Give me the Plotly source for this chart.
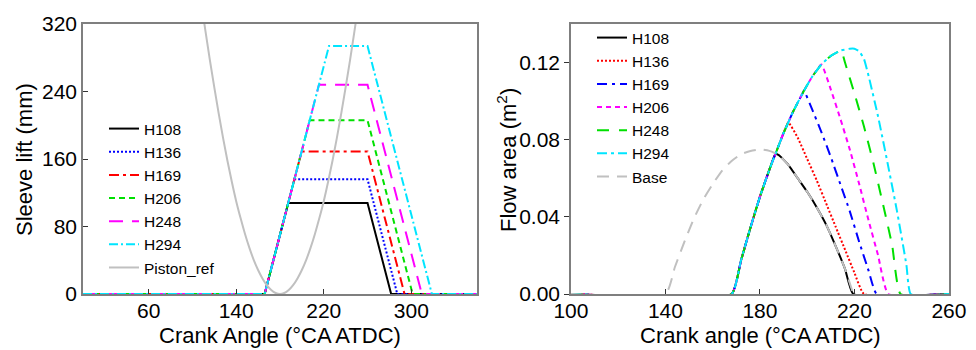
import plotly.graph_objects as go

# ---------------- Left panel: sleeve lift ----------------
sleeve_names = ["H108", "H136", "H169", "H206", "H248", "H294"]
sleeve_x = {
    "H108": [0, 166, 187.6, 260, 281.6, 360],
    "H136": [0, 166, 193.2, 260, 287.2, 360],
    "H169": [0, 166, 199.8, 260, 293.8, 360],
    "H206": [0, 166, 207.2, 260, 301.2, 360],
    "H248": [0, 166, 215.6, 260, 309.6, 360],
    "H294": [0, 166, 224.8, 260, 318.8, 360],
}
sleeve_y = {
    "H108": [0, 0, 108, 108, 0, 0],
    "H136": [0, 0, 136, 136, 0, 0],
    "H169": [0, 0, 169, 169, 0, 0],
    "H206": [0, 0, 206, 206, 0, 0],
    "H248": [0, 0, 248, 248, 0, 0],
    "H294": [0, 0, 294, 294, 0, 0],
}
piston_x = [108, 112, 116, 120, 124, 128, 132, 136, 140, 144, 148, 152, 156, 160, 164, 168, 172, 176,
            180, 184, 188, 192, 196, 200, 204, 208, 212, 216, 220, 224, 228, 232, 236, 240, 244, 248, 252]
piston_y = [346, 311, 277, 245, 214, 185, 158, 133, 110, 90, 71.5, 55, 40.5, 28.5, 18.5, 10.5, 4.7, 1.2,
            0, 1.2, 4.7, 10.5, 18.5, 28.5, 40.5, 55, 71.5, 90, 110, 133, 158, 185, 214, 245, 277, 311, 346]

left_colors = {"H108": "#000000", "H136": "#0000ff", "H169": "#ff0000",
               "H206": "#00e000", "H248": "#ff00ff", "H294": "#00e5ff"}
left_dash = {"H108": "solid", "H136": "2px,2px", "H169": "10px,4px,3px,4px",
             "H206": "6px,4px", "H248": "14px,9px", "H294": "9px,3px,2px,3px"}

# ---------------- Right panel: flow area ----------------
area_names = ["H108", "H136", "H169", "H206", "H248", "H294"]
rise_x = [100, 168, 172, 176, 180, 184, 186.5, 190, 192, 194, 198, 202, 206, 210, 214, 218]
rise_y = [0, 0, 0.0175, 0.0345, 0.0505, 0.0645, 0.0725, 0.0835, 0.089, 0.0945, 0.104, 0.1125, 0.119, 0.1235, 0.1262, 0.1272]
fall = {
    "H108": ([186.5, 188, 192, 196, 200, 204, 208, 212, 216, 219.5, 260],
             [0.0725, 0.072, 0.067, 0.060, 0.053, 0.045, 0.036, 0.025, 0.013, 0, 0]),
    "H136": ([192, 196, 200, 204, 208, 212, 216, 220, 224, 260],
             [0.089, 0.081, 0.070, 0.059, 0.047, 0.035, 0.023, 0.011, 0, 0]),
    "H169": ([198.6, 202, 206, 210, 214, 218, 222, 226, 229.4, 260],
             [0.1055, 0.096, 0.084, 0.071, 0.057, 0.043, 0.027, 0.012, 0, 0]),
    "H206": ([206, 210, 214, 218, 222, 226, 230, 234.3, 260],
             [0.119, 0.106, 0.091, 0.075, 0.057, 0.038, 0.020, 0, 0]),
    "H248": ([214.5, 216, 220, 224, 228, 232, 236, 239.5, 260],
             [0.1262, 0.120, 0.104, 0.087, 0.068, 0.047, 0.025, 0, 0]),
    "H294": ([218, 220, 222, 224, 226, 230, 234, 238, 242, 243.8, 260],
             [0.1272, 0.1272, 0.1258, 0.122, 0.113, 0.092, 0.068, 0.043, 0.015, 0, 0]),
}
base_x = [100, 140, 144, 148, 152, 156, 160, 164, 168, 172, 176, 180, 184, 188, 192, 196, 200, 204, 208, 212, 216, 219.5]
base_y = [0, 0, 0.014, 0.027, 0.039, 0.049, 0.057, 0.064, 0.069, 0.0725, 0.0742, 0.075, 0.0742, 0.072, 0.067,
          0.060, 0.053, 0.045, 0.036, 0.025, 0.013, 0]

right_colors = {"H108": "#000000", "H136": "#ff0000", "H169": "#0000ff",
                "H206": "#ff00ff", "H248": "#00e000", "H294": "#00e5ff"}
right_dash = {"H108": "solid", "H136": "2px,2px", "H169": "10px,5px,3px,5px",
              "H206": "5px,4px", "H248": "12px,10px", "H294": "10px,4px,3px,4px"}

FONT = "Arial, Liberation Sans, sans-serif"
fig = go.Figure()

for n in sleeve_names:
    fig.add_trace(go.Scatter(x=sleeve_x[n], y=sleeve_y[n], mode="lines", name=n,
                             line=dict(color=left_colors[n], width=2, dash=left_dash[n]),
                             xaxis="x", yaxis="y", legend="legend"))
fig.add_trace(go.Scatter(x=piston_x, y=piston_y, mode="lines", name="Piston_ref",
                         line=dict(color="#c0c0c0", width=2, shape="spline"),
                         xaxis="x", yaxis="y", legend="legend"))

for n in area_names:
    fx, fy = fall[n]
    xs = [v for v in rise_x if v < fx[0]] + fx
    ys = [rise_y[i] for i, v in enumerate(rise_x) if v < fx[0]] + fy
    fig.add_trace(go.Scatter(x=xs, y=ys, mode="lines", name=n,
                             line=dict(color=right_colors[n], width=2, dash=right_dash[n], shape="spline", smoothing=0.4),
                             xaxis="x2", yaxis="y2", legend="legend2"))
fig.add_trace(go.Scatter(x=base_x, y=base_y, mode="lines", name="Base",
                         line=dict(color="#c0c0c0", width=2, dash="12px,8px", shape="spline", smoothing=0.5),
                         xaxis="x2", yaxis="y2", legend="legend2"))

axis_common = dict(showline=True, mirror=True, linecolor="#7f7f7f", linewidth=1.5,
                   showgrid=False, zeroline=False, tickcolor="#333333", ticklen=5, automargin=False,
                   tickfont=dict(family=FONT, size=21, color="#000000"))

fig.update_layout(
    width=976, height=350,
    margin=dict(l=0, r=0, t=0, b=0, autoexpand=False),
    paper_bgcolor="white", plot_bgcolor="white",
    font=dict(family=FONT, color="#000000"),
    xaxis=dict(domain=[0.085, 0.4887], range=[0, 360], tickvals=[60, 140, 220, 300],
               ticks="inside", anchor="y", ticklabelstandoff=-3, **axis_common),
    yaxis=dict(domain=[0.16, 0.9314], range=[0, 320], tickvals=[0, 80, 160, 240, 320],
               ticks="inside", anchor="x", **axis_common),
    xaxis2=dict(domain=[0.585, 0.9723], range=[100, 260], tickvals=[100, 140, 180, 220, 260],
                ticks="inside", anchor="y2", ticklabelstandoff=-3, **axis_common),
    yaxis2=dict(domain=[0.16, 0.9314], range=[0, 0.14], tickvals=[0, 0.04, 0.08, 0.12],
                ticktext=["0.00", "0.04", "0.08", "0.12"], ticks="outside", anchor="x2", **axis_common),
    legend=dict(x=104 / 976, y=1 - 112 / 350, xanchor="left", yanchor="top",
                bgcolor="rgba(0,0,0,0)", font=dict(family=FONT, size=15.5, color="#000000"),
                tracegroupgap=0),
    legend2=dict(x=592 / 976, y=1 - 21 / 350, xanchor="left", yanchor="top",
                 bgcolor="rgba(0,0,0,0)", font=dict(family=FONT, size=15.5, color="#000000"),
                 tracegroupgap=0),
    annotations=[
        dict(text="Crank Angle (°CA ATDC)", x=280 / 976, y=1 - 335 / 350, xref="paper", yref="paper",
             showarrow=False, xanchor="center", yanchor="middle", font=dict(family=FONT, size=22)),
        dict(text="Crank angle (°CA ATDC)", x=760 / 976, y=1 - 335 / 350, xref="paper", yref="paper",
             showarrow=False, xanchor="center", yanchor="middle", font=dict(family=FONT, size=22)),
        dict(text="Sleeve lift (mm)", x=25 / 976, y=1 - 160 / 350, xref="paper", yref="paper",
             showarrow=False, xanchor="center", yanchor="middle", textangle=-90, font=dict(family=FONT, size=22)),
        dict(text="Flow area (m<sup>2</sup>)", x=507 / 976, y=1 - 160 / 350, xref="paper", yref="paper",
             showarrow=False, xanchor="center", yanchor="middle", textangle=-90, font=dict(family=FONT, size=22)),
    ],
)

fig.write_html("out.html")
